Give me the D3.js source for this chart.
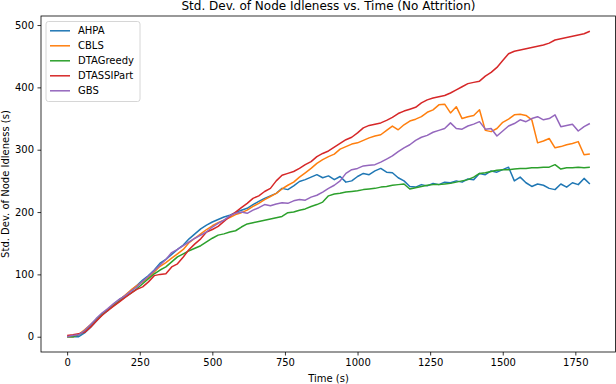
<!DOCTYPE html>
<html lang="en">
<head>
<meta charset="UTF-8">
<title>Std. Dev. of Node Idleness vs. Time</title>
<script src="https://d3js.org/d3.v7.min.js"></script>
<style>
    body { margin: 0; background: #fff; }
    text { font-family: "DejaVu Sans", sans-serif; fill: #000; }
    .axis text { font-size: 10px; }
    .axis path, .axis line { stroke: #000; stroke-width: 0.8px; }
    .series { fill: none; stroke-width: 1.5px; stroke-linejoin: round; }
</style>
</head>
<body>
<div id="chart"></div>
<script>
    // sample times (s), one every 20 s
    const times = d3.range(0, 1801, 20);

    const seriesNames = ["AHPA", "CBLS", "DTAGreedy", "DTASSIPart", "GBS"];
    const colors = ["#1f77b4", "#ff7f0e", "#2ca02c", "#d62728", "#9467bd"];

    const ahpa = [0, 0, 0, 6, 15, 25, 35, 42, 52, 60, 66, 74, 82, 91, 98, 107, 118, 124, 132, 140,
        147, 157, 165, 173, 179, 184, 188, 192, 195, 199, 203, 206, 212, 217, 222, 226, 230, 238, 236, 242,
        249, 252, 256, 260, 255, 258, 252, 257, 248, 250, 257, 262, 260, 266, 270, 264, 263, 255, 250, 241,
        240, 244, 242, 246, 244, 248, 247, 250, 248, 253, 252, 262, 260, 266, 264, 268, 272, 250, 256, 247,
        241, 245, 243, 238, 236, 245, 240, 247, 244, 254, 245];

    const cbls = [0, 0, 4, 11, 19, 27, 35, 44, 51, 59, 67, 75, 82, 88, 95, 104, 113, 119, 126, 133,
        140, 151, 158, 165, 172, 178, 183, 187, 191, 196, 199, 203, 209, 214, 220, 225, 230, 237, 243, 248,
        256, 263, 270, 278, 284, 289, 293, 301, 305, 309, 311, 315, 319, 322, 324, 331, 338, 332, 340, 346,
        349, 353, 360, 364, 372, 373, 359, 369, 350, 353, 355, 364, 331, 329, 334, 344, 349, 356, 357, 355,
        348, 311, 314, 318, 303, 305, 308, 310, 313, 292, 293];

    const dtaGreedy = [0, 0, 3, 9, 17, 28, 36, 43, 50, 57, 64, 70, 77, 85, 93, 101, 107, 112, 120, 128,
        133, 138, 142, 146, 152, 158, 163, 165, 168, 170, 176, 181, 183, 185, 187, 189, 191, 193, 199, 200,
        203, 205, 209, 212, 216, 226, 229, 230, 232, 233, 234, 236, 237, 238, 240, 241, 243, 244, 245, 237,
        239, 241, 243, 244, 244, 245, 246, 248, 250, 252, 256, 262, 263, 265, 267, 268, 268, 269, 270, 270,
        271, 271, 272, 272, 276, 269, 271, 271, 272, 271, 272];

    const dtassiPart = [2, 3, 5, 7, 15, 25, 34, 42, 49, 56, 63, 70, 76, 80, 88, 98, 100, 101, 112, 117,
        128, 140, 149, 157, 168, 172, 177, 185, 193, 200, 207, 214, 222, 226, 233, 238, 250, 259, 262, 265,
        270, 276, 281, 289, 294, 298, 304, 310, 316, 320, 327, 335, 339, 341, 343, 347, 352, 358, 362, 365,
        368, 375, 380, 383, 385, 387, 391, 396, 401, 406, 408, 410, 418, 424, 432, 443, 454, 458, 460, 462,
        464, 466, 468, 471, 476, 478, 480, 482, 484, 486, 490];

    const gbs = [0, 2, 3, 10, 19, 29, 38, 45, 53, 60, 66, 73, 80, 89, 97, 106, 115, 124, 135, 140,
        146, 152, 158, 163, 168, 176, 182, 187, 194, 198, 200, 198, 203, 207, 212, 210, 213, 215, 214, 218,
        220, 219, 224, 227, 232, 238, 243, 250, 262, 268, 270, 274, 275, 276, 280, 285, 290, 297, 303, 308,
        315, 320, 323, 328, 331, 334, 343, 334, 333, 338, 341, 345, 333, 334, 322, 330, 338, 342, 348, 345,
        350, 353, 348, 350, 356, 337, 339, 341, 330, 337, 342];

    const allSeries = [ahpa, cbls, dtaGreedy, dtassiPart, gbs];

    const xTicks = [0, 250, 500, 750, 1000, 1250, 1500, 1750];
    const yTicks = [0, 100, 200, 300, 400, 500];

    const width = 616, height = 384;
    const margin = { top: 16, right: 0, bottom: 32, left: 41 };

    const svg = d3.select("#chart").append("svg")
        .attr("width", width)
        .attr("height", height);

    const x = d3.scaleLinear().domain([-90, 1890]).range([margin.left, width - margin.right]);
    const y = d3.scaleLinear().domain([-24.5, 514.5]).range([height - margin.bottom, margin.top]);

    // lines
    const line = d3.line()
        .x((d, i) => x(times[i]))
        .y(d => y(d));

    svg.append("g")
        .selectAll("path")
        .data(allSeries)
        .join("path")
        .attr("class", "series")
        .attr("stroke", (d, i) => colors[i])
        .attr("d", line);

    // axes
    svg.append("g")
        .attr("class", "axis")
        .attr("transform", `translate(0,${height - margin.bottom})`)
        .call(d3.axisBottom(x).tickValues(xTicks).tickFormat(d3.format("d"))
            .tickSize(3.5).tickPadding(3.5).tickSizeOuter(0))
        .call(g => g.select(".domain").remove());

    svg.append("g")
        .attr("class", "axis")
        .attr("transform", `translate(${margin.left},0)`)
        .call(d3.axisLeft(y).tickValues(yTicks).tickFormat(d3.format("d"))
            .tickSize(3.5).tickPadding(3.5).tickSizeOuter(0))
        .call(g => g.select(".domain").remove());

    // spines
    svg.append("rect")
        .attr("x", margin.left)
        .attr("y", margin.top)
        .attr("width", width - margin.right - margin.left - 0.5)
        .attr("height", height - margin.bottom - margin.top)
        .attr("fill", "none")
        .attr("stroke", "#000")
        .attr("stroke-width", 0.8);

    // title and labels
    svg.append("text")
        .attr("x", (margin.left + width) / 2)
        .attr("y", 10)
        .attr("text-anchor", "middle")
        .style("font-size", "12px")
        .text("Std. Dev. of Node Idleness vs. Time (No Attrition)");

    svg.append("text")
        .attr("x", (margin.left + width) / 2)
        .attr("y", 382)
        .attr("text-anchor", "middle")
        .style("font-size", "10px")
        .text("Time (s)");

    svg.append("text")
        .attr("transform", "rotate(-90)")
        .attr("x", -(margin.top + height - margin.bottom) / 2)
        .attr("y", 9)
        .attr("text-anchor", "middle")
        .style("font-size", "10px")
        .text("Std. Dev. of Node Idleness (s)");

    // legend
    const legend = svg.append("g").attr("transform", "translate(46,21.5)");
    legend.append("rect")
        .attr("width", 94)
        .attr("height", 80)
        .attr("rx", 2.5)
        .attr("fill", "#fff")
        .attr("fill-opacity", 0.8)
        .attr("stroke", "#cccccc")
        .attr("stroke-width", 0.8);

    const items = legend.selectAll("g.item")
        .data(seriesNames)
        .join("g")
        .attr("class", "item")
        .attr("transform", (d, i) => `translate(0,${9.3 + i * 15})`);

    items.append("line")
        .attr("x1", 4).attr("x2", 24)
        .attr("stroke", (d, i) => colors[i])
        .attr("stroke-width", 1.5);

    items.append("text")
        .attr("x", 32)
        .attr("y", 3.6)
        .style("font-size", "10px")
        .text(d => d);
</script>
</body>
</html>
